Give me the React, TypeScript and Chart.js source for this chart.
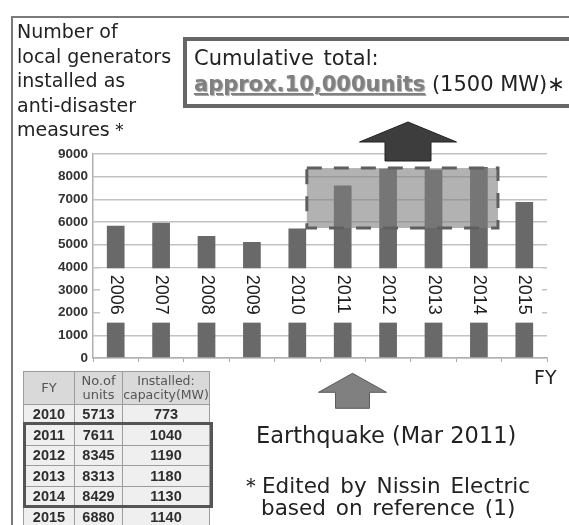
import React, { useEffect, useRef } from 'react';
import { Chart, registerables } from 'chart.js';

Chart.register(...registerables);

// ---------- data ----------
const FISCAL_YEARS = ['2006', '2007', '2008', '2009', '2010', '2011', '2012', '2013', '2014', '2015'];
const GENERATOR_UNITS = [5830, 5970, 5380, 5120, 5713, 7611, 8345, 8313, 8429, 6880];
const Y_TICKS = [0, 1000, 2000, 3000, 4000, 5000, 6000, 7000, 8000, 9000];

const TABLE_YEARS = ['2010', '2011', '2012', '2013', '2014', '2015'];
const TABLE_UNITS = [5713, 7611, 8345, 8313, 8429, 6880];
const TABLE_CAPACITY_MW = [773, 1040, 1190, 1180, 1130, 1140];

// axis break (white band holding the year labels), in axis units
const BREAK_LOW = 1560;
const BREAK_HIGH = 4000;
// highlighted period box, in axis units (category index / value)
const HL_FROM = 4.21;
const HL_TO = 8.42;
const HL_TOP = 8380;
const HL_BOTTOM = 5735;

const SANS = "'DejaVu Sans', Verdana, sans-serif";
const ARIAL = "'Liberation Sans', Arial, sans-serif";

function drawArrow(
  ctx: CanvasRenderingContext2D,
  cx: number, tipY: number, headW: number, headH: number,
  shaftW: number, shaftH: number, fill: string, stroke: string
) {
  const by = tipY + headH;
  ctx.beginPath();
  ctx.moveTo(cx, tipY);
  ctx.lineTo(cx + headW / 2, by);
  ctx.lineTo(cx + shaftW / 2, by);
  ctx.lineTo(cx + shaftW / 2, by + shaftH);
  ctx.lineTo(cx - shaftW / 2, by + shaftH);
  ctx.lineTo(cx - shaftW / 2, by);
  ctx.lineTo(cx - headW / 2, by);
  ctx.closePath();
  ctx.fillStyle = fill;
  ctx.fill();
  ctx.lineWidth = 1;
  ctx.strokeStyle = stroke;
  ctx.stroke();
}

const framePlugin = {
  id: 'frame',
  beforeDraw(chart: any) {
    const { ctx, width, height } = chart;
    ctx.save();
    // outer figure frame (left + top edges)
    ctx.strokeStyle = '#7a7a7a';
    ctx.lineWidth = 2;
    ctx.beginPath();
    ctx.moveTo(12, height + 5);
    ctx.lineTo(12, 17);
    ctx.lineTo(width + 5, 17);
    ctx.stroke();
    // "cumulative total" call-out box, running off the right edge
    ctx.strokeStyle = '#676767';
    ctx.lineWidth = 4;
    ctx.beginPath();
    ctx.moveTo(width + 10, 39);
    ctx.lineTo(185, 39);
    ctx.lineTo(185, 106);
    ctx.lineTo(width + 10, 106);
    ctx.stroke();
    ctx.restore();
  },
};

const overlayPlugin = {
  id: 'overlay',
  afterDatasetsDraw(chart: any) {
    const { ctx, chartArea } = chart;
    const x = chart.scales.x;
    const y = chart.scales.y;
    ctx.save();
    // white band (axis break)
    const top = y.getPixelForValue(BREAK_HIGH) + 1;
    const bottom = y.getPixelForValue(BREAK_LOW);
    ctx.fillStyle = '#ffffff';
    ctx.fillRect(chartArea.left + 7, top, chartArea.right - 5 - (chartArea.left + 7), bottom - top);
    // rotated year labels
    ctx.fillStyle = '#1c1c1c';
    ctx.font = `18px ${ARIAL}`;
    ctx.textAlign = 'left';
    ctx.textBaseline = 'middle';
    FISCAL_YEARS.forEach((yr, i) => {
      const cx = x.getPixelForValue(i);
      ctx.save();
      ctx.translate(cx, top + 6.5);
      ctx.rotate(Math.PI / 2);
      ctx.fillText(yr, 0, 0);
      ctx.restore();
    });
    // highlight box
    const bx1 = x.getPixelForValue(HL_FROM);
    const bx2 = x.getPixelForValue(HL_TO);
    const by1 = y.getPixelForValue(HL_TOP);
    const by2 = y.getPixelForValue(HL_BOTTOM);
    ctx.fillStyle = 'rgba(127,127,127,0.6)';
    ctx.fillRect(bx1, by1, bx2 - bx1, by2 - by1);
    ctx.setLineDash([15, 12]);
    ctx.lineWidth = 3;
    ctx.strokeStyle = '#5f5f5f';
    ctx.strokeRect(bx1, by1, bx2 - bx1, by2 - by1);
    ctx.setLineDash([]);
    // arrows
    drawArrow(ctx, 408, 122, 97, 20, 46, 19, '#3d3d3d', '#222222');
    drawArrow(ctx, 352.5, 373.3, 68, 19, 34, 16, '#808080', '#5c5c5c');
    ctx.restore();
  },
};

const ROW_H = 20.5;
const HEADER_TOP = 372;
const HEADER_H = 32.5;
const COL_X = [24, 75, 123, 210];

function DataTable() {
  const cells: React.ReactNode[] = [];
  const cellBase = (c: number, top: number, h: number, bg: string): React.CSSProperties => ({
    position: 'absolute',
    left: COL_X[c],
    top,
    width: COL_X[c + 1] - COL_X[c],
    height: h,
    boxSizing: 'border-box',
    borderRight: '1px solid #9c9c9c',
    borderBottom: '1px solid #9c9c9c',
    background: bg,
    display: 'flex',
    alignItems: 'center',
    justifyContent: 'center',
    textAlign: 'center',
    whiteSpace: 'nowrap',
  });
  const headers = [
    { t: 'FY', fs: 13 },
    { t: 'No.of\nunits', fs: 13 },
    { t: 'Installed:\ncapacity(MW)', fs: 12.5 },
  ];
  headers.forEach((h, c) => {
    cells.push(
      <div key={`h${c}`} style={{ ...cellBase(c, HEADER_TOP, HEADER_H, '#d9d9d9'), fontFamily: SANS, fontSize: h.fs, lineHeight: '14px', color: '#555', whiteSpace: 'pre' }}>
        {h.t}
      </div>
    );
  });
  TABLE_YEARS.forEach((yr, r) => {
    const top = HEADER_TOP + HEADER_H + r * ROW_H;
    const vals = [yr, String(TABLE_UNITS[r]), String(TABLE_CAPACITY_MW[r])];
    vals.forEach((v, c) => {
      cells.push(
        <div key={`r${r}c${c}`} style={{ ...cellBase(c, top, ROW_H, '#efefef'), fontFamily: ARIAL, fontWeight: 'bold', fontSize: 14.5, color: '#2e2e2e' }}>
          {v}
        </div>
      );
    });
  });
  return (
    <>
      <div style={{ position: 'absolute', left: COL_X[0] - 1, top: HEADER_TOP - 1, width: COL_X[3] - COL_X[0] + 1, height: 200, borderLeft: '1px solid #9c9c9c', borderTop: '1px solid #9c9c9c', boxSizing: 'border-box' }} />
      {cells}
      <div style={{ position: 'absolute', left: 23, top: HEADER_TOP + HEADER_H + ROW_H - 3, width: 190, height: ROW_H * 4 + 4, border: '3px solid #555', boxSizing: 'border-box' }} />
    </>
  );
}

export default function App() {
  const ref = useRef<HTMLCanvasElement>(null);
  useEffect(() => {
    const chart = new Chart(ref.current as HTMLCanvasElement, {
      type: 'bar',
      data: {
        labels: FISCAL_YEARS,
        datasets: [
          {
            data: GENERATOR_UNITS,
            backgroundColor: '#696969',
            barPercentage: 0.39,
            categoryPercentage: 1,
          },
        ],
      },
      options: {
        responsive: false,
        animation: false,
        devicePixelRatio: 1,
        layout: { padding: { top: 154, right: 22, bottom: 157, left: 0 } },
        plugins: { legend: { display: false }, tooltip: { enabled: false } },
        scales: {
          x: {
            offset: true,
            grid: { offset: true, drawOnChartArea: false, drawTicks: true, tickLength: 4, color: '#a8a8a8', lineWidth: 1 },
            border: { color: '#b0b0b0', width: 1.5 },
            ticks: { display: false },
            afterFit: (s: any) => { s.height = 10; },
          },
          y: {
            min: 0,
            max: 9000,
            afterBuildTicks: (s: any) => { s.ticks = Y_TICKS.map((v) => ({ value: v })); },
            ticks: {
              font: { family: ARIAL, size: 13.5, weight: 'bold' },
              color: '#333',
              padding: 5,
              callback: (v: any) => String(v),
            },
            grid: { color: '#c2c2c2', lineWidth: 1.5, drawTicks: false },
            border: { color: '#b0b0b0', width: 1.5 },
            afterFit: (s: any) => { s.width = 93; },
          },
        },
      } as any,
      plugins: [framePlugin, overlayPlugin],
    });
    return () => chart.destroy();
  }, []);

  const txt: React.CSSProperties = { position: 'absolute', fontFamily: SANS, color: '#222', whiteSpace: 'pre' };

  return (
    <div style={{ position: 'fixed', left: 0, top: 0, width: 569, height: 525, overflow: 'hidden', background: '#fff' }}>
      <canvas ref={ref} width={569} height={525} style={{ position: 'absolute', left: 0, top: 0 }} />

      {/* y-axis description */}
      <div style={{ ...txt, left: 17, top: 19.2, fontSize: 19, lineHeight: '24.5px' }}>
        {'Number of\nlocal generators\ninstalled as\nanti-disaster\nmeasures＊'}
      </div>

      {/* cumulative total call-out text */}
      <div style={{ ...txt, left: 194, top: 45.8, fontSize: 21, lineHeight: '25px', wordSpacing: 3 }}>Cumulative total:</div>
      <div style={{ ...txt, left: 194, top: 71.9, fontSize: 21, lineHeight: '25px' }}>
        <span style={{ fontWeight: 'bold', color: '#808080', textDecoration: 'underline', textDecorationThickness: '2px', textUnderlineOffset: '2px', textShadow: '1px 1px 1px rgba(0,0,0,0.35)' }}>approx.10,000units</span>
        <span>{' (1500\u00a0MW)\u2217'}</span>
      </div>

      {/* FY axis title */}
      <div style={{ ...txt, left: 534, top: 366.4, fontSize: 19, lineHeight: '22px' }}>FY</div>

      {/* earthquake note */}
      <div style={{ ...txt, left: 256, top: 422, fontSize: 22.5, lineHeight: '27px' }}>Earthquake (Mar 2011)</div>

      {/* source note */}
      <div style={{ ...txt, left: 240, top: 474.6, fontSize: 21.5, lineHeight: '22px', wordSpacing: 3 }}>{'＊Edited by Nissin Electric'}</div>
      <div style={{ ...txt, left: 261, top: 496.6, fontSize: 21.5, lineHeight: '22px', wordSpacing: 3 }}>based on reference (1)</div>

      <DataTable />
    </div>
  );
}
